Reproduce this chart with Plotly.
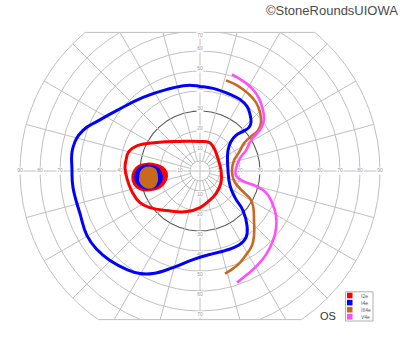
import numpy as np
import plotly.graph_objects as go

# ---------------- data (degrees of visual field; x + right, y + up) ----------------
i2e_x = [-37.5, -37, -35.5, -31, -21.5, -10, 0, 4.5, 6.5, 8.5, 10.5, 10.5, 8, 4, 0, -6.5, -16.5, -25, -30, -34, -36.5, -37.5]
i2e_y = [1.8, 5.3, 9.8, 12.8, 14.3, 14.8, 14.8, 14.3, 12.3, 7.8, 0.3, -5.8, -11.3, -15.3, -18.3, -20.3, -19.8, -18.3, -15.8, -10.3, -3.8, 1.8]

i4e_x = [-64, -63.5, -58.5, -50.5, -41.5, -28.5, -16.5, -6.5, 0, 6.5, 15, 20, 23.5, 25, 25.5, 24.5, 21.5, 18, 15.5, 14, 14,
         15, 17.5, 21.5, 23.5, 23, 19, 12.5, 6.5, -3.5, -13.5, -23.5, -30, -36.5, -45, -51.5, -56.5, -60, -63.5, -64]
i4e_y = [0.3, 11.8, 20.3, 25.3, 30.3, 36.8, 40.8, 42.8, 42.3, 41.3, 38.3, 35.8, 32.3, 28.3, 24.3, 21.8, 19.8, 17.8, 14.8,
         10.3, 0.3, -7.3, -13.3, -19.8, -27.3, -33.3, -37.3, -39.8, -41.3, -44.3, -48.3, -51.3, -51.3, -49.3, -44.8,
         -39.3, -32.3, -21.3, -8.3, 0.3]

iii4e_x = [13, 18.5, 24, 28, 30, 30.5, 29, 25.5, 22, 19.5, 17, 16, 17, 20.5, 25, 26.5, 27, 27, 26, 23.5, 20, 16.5, 12.5]
iii4e_y = [45.3, 42.8, 38.8, 34.3, 29.3, 24.3, 20.3, 17.3, 13.8, 9.3, 5.3, 0.3, -4.8, -9.3, -13.8, -17.3, -24.8, -32.3,
           -37.3, -41.3, -45.8, -48.8, -51.3]

v4e_x = [16, 21, 26, 29.5, 31.5, 32, 31, 28.5, 25.5, 23, 20, 18, 18, 21, 27.5, 33, 36, 38, 38, 36.5, 33, 28.5, 23.5, 18.5]
v4e_y = [48.3, 45.3, 41.3, 36.3, 30.3, 26.3, 22.3, 18.8, 15.3, 10.3, 6.3, 1.3, -2.3, -4.8, -7.3, -10.8, -15.8, -22.3,
         -28.8, -34.8, -41.8, -47.3, -51.8, -55.8]

# blind spot (scotoma) outlines
bs_i2e_x = [-34, -33, -30.5, -26.5, -22, -18.5, -16.5, -17, -20, -25, -30, -33, -34]
bs_i2e_y = [-3.3, 0.3, 2.8, 3.8, 3.3, 1.8, -0.8, -4.8, -8.3, -9.8, -9.3, -6.8, -3.3]
bs_i4e_x = [-32.5, -31.5, -29, -25.5, -21.5, -19.5, -19, -21, -25, -29, -31.5, -32.5]
bs_i4e_y = [-3.3, 0.3, 2.3, 2.8, 1.8, -0.8, -4.3, -7.3, -8.8, -8.3, -6.3, -3.3]
bs_iii4e_x = [-30, -29.5, -27.5, -25, -22.5, -21.5, -21.5, -23, -26, -28.5, -30, -30]
bs_iii4e_y = [-3.3, -0.3, 1.5, 1.8, 0.8, -1.8, -5.3, -7.8, -8.5, -7.3, -5.3, -3.3]

legend_names = ["I2e", "I4e", "III4e", "V4e"]
colors = ["#ff0000", "#0000ff", "#c8691e", "#ff4dff"]

ring_radii = [5, 10, 20, 30, 40, 50, 60, 70, 80, 90]
h_labels = [10, 20, 30, 40, 50, 60, 70, 80, 90]
v_labels = [10, 20, 30, 40, 50, 60, 70]
spoke_step = 15

# ---------------- layout constants ----------------
W, H = 400, 352
CX, CY = 200, 171           # pixel centre
PX = 2.0                     # pixels per degree
Y_TOP, Y_BOT = 69.3, -74.3   # clip of the chart frame (deg)
GRID = "#c0c0c0"

fig = go.Figure()

def add_line(x, y, color, width):
    fig.add_trace(go.Scatter(x=x, y=y, mode="lines", line=dict(color=color, width=width),
                             hoverinfo="skip", showlegend=False, connectgaps=False))

# rings
th = np.linspace(0, 2 * np.pi, 2881)
for r in ring_radii:
    x = r * np.cos(th)
    y = r * np.sin(th)
    mask = (y > Y_TOP) | (y < Y_BOT)
    x = np.where(mask, np.nan, x)
    y = np.where(mask, np.nan, y)
    if r == 30:
        add_line(x, y, "#5a5a5a", 1.1)
    else:
        add_line(x, y, GRID, 1)

# top / bottom chords
Rmax = ring_radii[-1]
xt = np.sqrt(Rmax ** 2 - Y_TOP ** 2)
xb = np.sqrt(Rmax ** 2 - Y_BOT ** 2)
add_line([-xt, xt], [Y_TOP, Y_TOP], GRID, 1)
add_line([-xb, xb], [Y_BOT, Y_BOT], GRID, 1)

# spokes
sx, sy = [], []
for a in range(0, 360, spoke_step):
    t = np.deg2rad(a)
    r0 = 0 if a % 90 == 0 else ring_radii[0]
    r1 = Rmax
    s = np.sin(t)
    if s > 1e-9:
        r1 = min(r1, Y_TOP / s)
    elif s < -1e-9:
        r1 = min(r1, Y_BOT / s)
    sx += [r0 * np.cos(t), r1 * np.cos(t), None]
    sy += [r0 * np.sin(t), r1 * np.sin(t), None]
add_line(sx, sy, GRID, 1)

# ring labels (white knock-out + text), drawn under the isopters
lx, ly, lt = [], [], []
for r in h_labels:
    for sgn in (-1, 1):
        lx.append(sgn * r); ly.append(0); lt.append(str(r))
for r in v_labels:
    lx.append(0); ly.append(min(r + 1.0, Y_TOP - 1.5)); lt.append(str(r))
    lx.append(0); ly.append(-(r + 1.8)); lt.append(str(r))
fig.add_trace(go.Scatter(x=lx, y=ly, mode="markers", marker=dict(symbol="square", size=7, color="white",
                         line=dict(width=0)), hoverinfo="skip", showlegend=False))
fig.add_trace(go.Scatter(x=lx, y=ly, mode="text", text=lt, textposition="middle center",
                         textfont=dict(family="Liberation Sans, Arial", size=5, color="#9a9a9a"),
                         hoverinfo="skip", showlegend=False))

# isopters
iso_x = [i2e_x, i4e_x, iii4e_x, v4e_x]
iso_y = [i2e_y, i4e_y, iii4e_y, v4e_y]
for k in range(4):
    fig.add_trace(go.Scatter(x=iso_x[k], y=iso_y[k], mode="lines",
                             line=dict(color=colors[k], width=3 if k < 2 else 2.6, shape="spline", smoothing=1.3),
                             hoverinfo="skip", showlegend=False))

# blind spot fills
bs = [(bs_i2e_x, bs_i2e_y), (bs_i4e_x, bs_i4e_y), (bs_iii4e_x, bs_iii4e_y)]
for k, (bx, by) in enumerate(bs):
    fig.add_trace(go.Scatter(x=bx, y=by, mode="lines", fill="toself", fillcolor=colors[k],
                             line=dict(color=colors[k], width=1.5, shape="spline", smoothing=1.3),
                             hoverinfo="skip", showlegend=False))

annotations = []
# copyright
annotations.append(dict(xref="paper", yref="paper", x=1.0, y=1 - 10 / H, text="©StoneRoundsUIOWA",
                        showarrow=False, xanchor="right", yanchor="middle",
                        font=dict(family="Liberation Sans, Arial", size=13, color="#4a4a4a")))
# OS
annotations.append(dict(xref="paper", yref="paper", x=327.5 / W, y=1 - 316 / H, text="OS",
                        showarrow=False, xanchor="center", yanchor="middle",
                        font=dict(family="Liberation Sans, Arial", size=11, color="#333333")))

# manual legend
shapes = [dict(type="rect", xref="paper", yref="paper", x0=345.5 / W, x1=373 / W,
               y0=1 - 321 / H, y1=1 - 291.8 / H, line=dict(color="#b0b0b0", width=1), fillcolor="white",
               layer="above")]
for k, name in enumerate(legend_names):
    yc = 295.5 + k * 7.1
    shapes.append(dict(type="rect", xref="paper", yref="paper", x0=347 / W, x1=352.5 / W,
                       y0=1 - (yc + 2.8) / H, y1=1 - (yc - 2.8) / H, line=dict(width=0),
                       fillcolor=colors[k], layer="above"))
    annotations.append(dict(xref="paper", yref="paper", x=358.5 / W, y=1 - yc / H, text=name,
                            showarrow=False, xanchor="left", yanchor="middle",
                            font=dict(family="Liberation Sans, Arial", size=5, color="#555555")))

fig.update_layout(
    width=W, height=H, margin=dict(l=0, r=0, t=0, b=0, pad=0),
    paper_bgcolor="white", plot_bgcolor="white",
    xaxis=dict(range=[-CX / PX, (W - CX) / PX], visible=False, showgrid=False, zeroline=False, fixedrange=True),
    yaxis=dict(range=[-(H - CY) / PX, CY / PX], visible=False, showgrid=False, zeroline=False, fixedrange=True),
    annotations=annotations, shapes=shapes, showlegend=False,
)

fig.write_html("out.html")
